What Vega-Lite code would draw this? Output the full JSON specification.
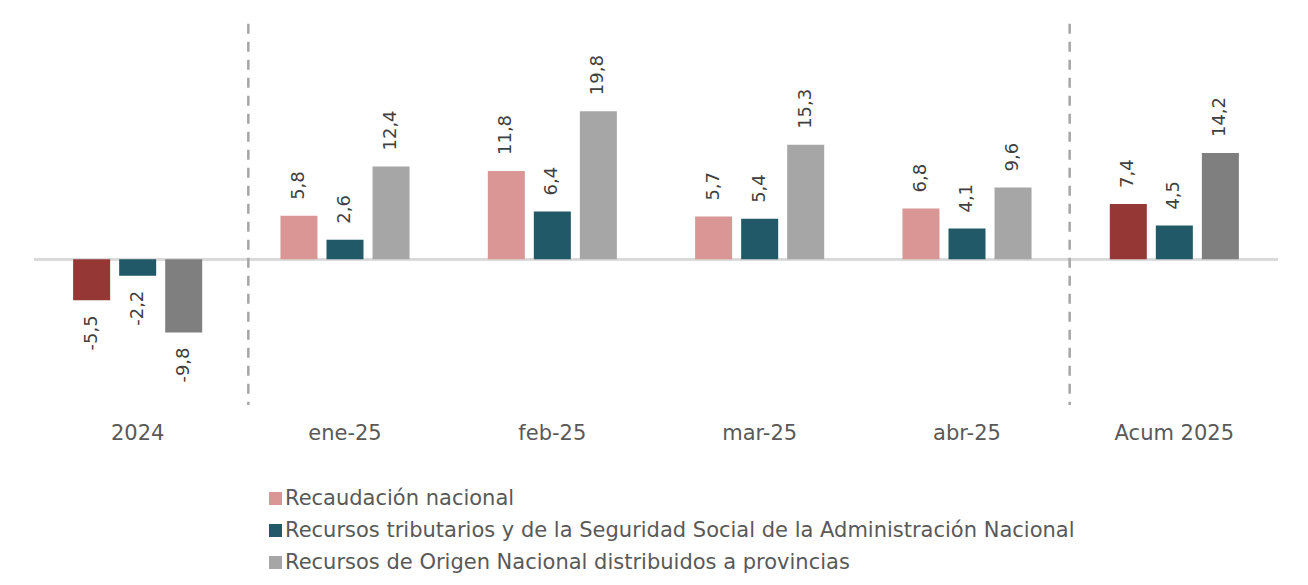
{
  "$schema": "https://vega.github.io/schema/vega-lite/v6.json",
  "width": 1244,
  "height": 385,
  "autosize": {"type": "none"},
  "padding": {"left": 34, "top": 20, "right": 30, "bottom": 180},
  "background": "white",
  "config": {
    "view": {"stroke": null},
    "font": "DejaVu Sans",
    "locale": {"number": {"decimal": ",", "thousands": ".", "grouping": [3], "currency": ["$", ""], "minus": "-"}}
  },
  "data": {"values": [
    {"periodo": "2024", "tipo": "anual", "serie": "Recaudación nacional", "valor": -5.5},
    {"periodo": "2024", "tipo": "anual", "serie": "Recursos tributarios y de la Seguridad Social de la Administración Nacional", "valor": -2.2},
    {"periodo": "2024", "tipo": "anual", "serie": "Recursos de Origen Nacional distribuidos a provincias", "valor": -9.8},
    {"periodo": "ene-25", "tipo": "mensual", "serie": "Recaudación nacional", "valor": 5.8},
    {"periodo": "ene-25", "tipo": "mensual", "serie": "Recursos tributarios y de la Seguridad Social de la Administración Nacional", "valor": 2.6},
    {"periodo": "ene-25", "tipo": "mensual", "serie": "Recursos de Origen Nacional distribuidos a provincias", "valor": 12.4},
    {"periodo": "feb-25", "tipo": "mensual", "serie": "Recaudación nacional", "valor": 11.8},
    {"periodo": "feb-25", "tipo": "mensual", "serie": "Recursos tributarios y de la Seguridad Social de la Administración Nacional", "valor": 6.4},
    {"periodo": "feb-25", "tipo": "mensual", "serie": "Recursos de Origen Nacional distribuidos a provincias", "valor": 19.8},
    {"periodo": "mar-25", "tipo": "mensual", "serie": "Recaudación nacional", "valor": 5.7},
    {"periodo": "mar-25", "tipo": "mensual", "serie": "Recursos tributarios y de la Seguridad Social de la Administración Nacional", "valor": 5.4},
    {"periodo": "mar-25", "tipo": "mensual", "serie": "Recursos de Origen Nacional distribuidos a provincias", "valor": 15.3},
    {"periodo": "abr-25", "tipo": "mensual", "serie": "Recaudación nacional", "valor": 6.8},
    {"periodo": "abr-25", "tipo": "mensual", "serie": "Recursos tributarios y de la Seguridad Social de la Administración Nacional", "valor": 4.1},
    {"periodo": "abr-25", "tipo": "mensual", "serie": "Recursos de Origen Nacional distribuidos a provincias", "valor": 9.6},
    {"periodo": "Acum 2025", "tipo": "anual", "serie": "Recaudación nacional", "valor": 7.4},
    {"periodo": "Acum 2025", "tipo": "anual", "serie": "Recursos tributarios y de la Seguridad Social de la Administración Nacional", "valor": 4.5},
    {"periodo": "Acum 2025", "tipo": "anual", "serie": "Recursos de Origen Nacional distribuidos a provincias", "valor": 14.2}
  ]},
  "encoding": {
    "x": {
      "field": "periodo", "type": "nominal",
      "scale": {"domain": ["2024", "ene-25", "feb-25", "mar-25", "abr-25", "Acum 2025"], "paddingInner": 0, "paddingOuter": 0},
      "axis": {"title": null, "domain": false, "ticks": false, "labelAngle": 0, "labelFontSize": 21, "labelColor": "#595959", "labelPadding": 17, "labelFont": "DejaVu Sans"}
    },
    "xOffset": {"field": "serie", "type": "nominal", "scale": {"domain": ["Recaudación nacional", "Recursos tributarios y de la Seguridad Social de la Administración Nacional", "Recursos de Origen Nacional distribuidos a provincias"], "paddingInner": 0.196, "paddingOuter": 0.85}},
    "y": {"field": "valor", "type": "quantitative", "scale": {"domain": [-19.5, 32], "nice": false, "zero": false}, "axis": null}
  },
  "layer": [
    {
      "mark": {"type": "rule", "color": "#d9d9d9", "strokeWidth": 2},
      "encoding": {"x": {"value": 0}, "x2": {"value": 1244}, "xOffset": {"value": 0}, "y": {"datum": 0, "type": "quantitative"}}
    },
    {
      "transform": [{"filter": "datum.periodo == 'ene-25' && datum.serie == 'Recaudación nacional'"}],
      "mark": {"type": "rule", "color": "#a6a6a6", "strokeWidth": 2.5, "strokeDash": [10, 8]},
      "encoding": {
        "x": {"field": "periodo", "type": "nominal", "bandPosition": 0},
        "xOffset": {"value": 7},
        "y": {"datum": 31.5, "type": "quantitative"},
        "y2": {"datum": -19.5}
      }
    },
    {
      "transform": [{"filter": "datum.periodo == 'Acum 2025' && datum.serie == 'Recaudación nacional'"}],
      "mark": {"type": "rule", "color": "#a6a6a6", "strokeWidth": 2.5, "strokeDash": [10, 8]},
      "encoding": {
        "x": {"field": "periodo", "type": "nominal", "bandPosition": 0},
        "xOffset": {"value": -1},
        "y": {"datum": 31.5, "type": "quantitative"},
        "y2": {"datum": -19.5}
      }
    },
    {
      "transform": [{"filter": "datum.tipo == 'mensual'"}],
      "mark": {"type": "bar"},
      "encoding": {
        "color": {
          "field": "serie", "type": "nominal",
          "scale": {"domain": ["Recaudación nacional", "Recursos tributarios y de la Seguridad Social de la Administración Nacional", "Recursos de Origen Nacional distribuidos a provincias"], "range": ["#d99694", "#215968", "#a6a6a6"]},
          "legend": {
            "title": null, "orient": "none", "legendX": 231, "legendY": 468, "direction": "vertical",
            "symbolType": "square", "symbolSize": 169, "symbolStrokeWidth": 0, "labelFontSize": 21, "labelColor": "#595959",
            "labelFont": "DejaVu Sans", "labelOffset": -1, "rowPadding": 10, "labelLimit": 1000
          }
        }
      }
    },
    {
      "transform": [{"filter": "datum.tipo == 'anual'"}],
      "mark": {"type": "bar"},
      "encoding": {
        "color": {
          "field": "serie", "type": "nominal",
          "scale": {"domain": ["Recaudación nacional", "Recursos tributarios y de la Seguridad Social de la Administración Nacional", "Recursos de Origen Nacional distribuidos a provincias"], "range": ["#953735", "#215968", "#7f7f7f"]},
          "legend": null
        }
      }
    },
    {
      "transform": [{"filter": "datum.valor >= 0"}],
      "mark": {"type": "text", "angle": 270, "align": "left", "baseline": "middle", "fontSize": 18, "color": "#404040", "yOffset": -16},
      "encoding": {
        "text": {"field": "valor", "type": "quantitative", "format": ".1f"}
      }
    },
    {
      "transform": [{"filter": "datum.valor < 0"}],
      "mark": {"type": "text", "angle": 270, "align": "right", "baseline": "middle", "fontSize": 18, "color": "#404040", "yOffset": 15},
      "encoding": {
        "text": {"field": "valor", "type": "quantitative", "format": ".1f"}
      }
    }
  ],
  "resolve": {"scale": {"color": "independent"}}
}
